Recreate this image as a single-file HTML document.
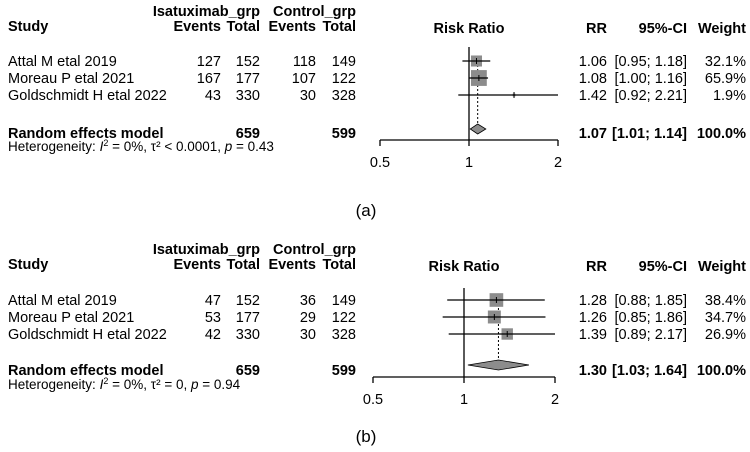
<!DOCTYPE html>
<html><head><meta charset="utf-8">
<style>
html,body{margin:0;padding:0;background:#fff;}
svg{display:block;font-family:"Liberation Sans",Arial,sans-serif;font-size:14.5px;fill:#000;}
.b{font-weight:bold;}
</style></head>
<body>
<svg id="chart" width="750" height="452" viewBox="0 0 750 452"></svg>
<script>
// Panel data
const studies = ["Attal M etal 2019","Moreau P etal 2021","Goldschmidt H etal 2022"];
const aEvT = [127,167,43], aTotT = [152,177,330], aEvC = [118,107,30], aTotC = [149,122,328];
const aRR = [1.06,1.08,1.42], aLo = [0.95,1.00,0.92], aHi = [1.18,1.16,2.21], aW = [32.1,65.9,1.9];
const aPool = [1.07,1.01,1.14], aTot = [659,599];
const aHet = "τ² < 0.0001, ", aP = "0.43";
const bEvT = [47,53,42], bTotT = [152,177,330], bEvC = [36,29,30], bTotC = [149,122,328];
const bRR = [1.28,1.26,1.39], bLo = [0.88,0.85,0.89], bHi = [1.85,1.86,2.17], bW = [38.4,34.7,26.9];
const bPool = [1.30,1.03,1.64], bTot = [659,599];
const bHet = "τ² = 0, ", bP = "0.94";
const ticks = [0.5,1,2];

const NS="http://www.w3.org/2000/svg";
const svg=document.getElementById('chart');
function el(tag,attrs,parent){const e=document.createElementNS(NS,tag);for(const k in attrs)e.setAttribute(k,attrs[k]);(parent||svg).appendChild(e);return e;}
function txt(x,y,s,anchor,cls,name,parent){const t=el('text',{x:x,y:y,'text-anchor':anchor||'start'},parent);if(cls)t.setAttribute('class',cls);t.textContent=s;


return t;}
const f2=v=>v.toFixed(2);

function panel(cfg){
  const g=el('g',{});
  
  
  const sx=v=>cfg.x1+Math.log2(v)*cfg.unit;
  const h1=cfg.top, h2=cfg.top+15;
  txt(8,h2,"Study","start","b","study-header",g);
  txt(260,h1,"Isatuximab_grp","end","b","treatment-group-header",g);
  txt(356,h1,"Control_grp","end","b","control-group-header",g);
  txt(221,h2,"Events","end","b","events-header",g);
  txt(260,h2,"Total","end","b","total-header",g);
  txt(316,h2,"Events","end","b","events-header",g);
  txt(356,h2,"Total","end","b","total-header",g);
  txt(sx(1),h2+2,"Risk Ratio","middle","b","risk-ratio-header",g);
  txt(607,h2+2,"RR","end","b","rr-header",g);
  txt(687,h2+2,"95%-CI","end","b","ci-header",g);
  txt(746,h2+2,"Weight","end","b","weight-header",g);
  const d=cfg.d;
  const ref=el('line',{x1:sx(1),x2:sx(1),y1:cfg.refTop,y2:cfg.axisY,stroke:'#000','stroke-width':1.3},g);
  
  
  const dl=el('line',{x1:sx(d.pool[0]),x2:sx(d.pool[0]),y1:cfg.rows[0],y2:cfg.poolY,stroke:'#000','stroke-dasharray':'2,2','stroke-width':1},g);
  
  
  studies.forEach((s,i)=>{
    const y=cfg.rows[i], by=y+5;
    txt(8,by,s,"start",null,"study-name",g);
    txt(221,by,String(d.evT[i]),"end",null,"treatment-events",g);
    txt(260,by,String(d.totT[i]),"end",null,"treatment-total",g);
    txt(316,by,String(d.evC[i]),"end",null,"control-events",g);
    txt(356,by,String(d.totC[i]),"end",null,"control-total",g);
    const sz=Math.sqrt(d.w[i])*cfg.boxK;
    const bx=el('rect',{x:sx(d.rr[i])-sz/2,y:y-sz/2,width:sz,height:sz,fill:'#8c8c8c'},g);
    
    
    const lo=Math.max(d.lo[i],0.5),hi=Math.min(d.hi[i],2);
    const ci=el('line',{x1:sx(lo),x2:sx(hi),y1:y,y2:y,stroke:'#000','stroke-width':1.3},g);
    
    
    const tk=el('line',{x1:sx(d.rr[i]),x2:sx(d.rr[i]),y1:y-3,y2:y+3,stroke:'#000','stroke-width':1},g);
    
    
    txt(607,by,f2(d.rr[i]),"end",null,"rr-value",g);
    txt(687,by,"["+f2(d.lo[i])+"; "+f2(d.hi[i])+"]","end",null,"ci-value",g);
    txt(746,by,d.w[i].toFixed(1)+"%","end",null,"weight-value",g);
  });
  const py=cfg.poolY, ty=cfg.poolTextY+5;
  txt(8,ty,"Random effects model","start","b","pooled-label",g);
  txt(260,ty,String(d.tot[0]),"end","b","treatment-pooled-total",g);
  txt(356,ty,String(d.tot[1]),"end","b","control-pooled-total",g);
  const dm=el('polygon',{points:`${sx(d.pool[1])},${py} ${sx(d.pool[0])},${py-5} ${sx(d.pool[2])},${py} ${sx(d.pool[0])},${py+5}`,fill:'#8c8c8c',stroke:'#000','stroke-width':0.8},g);
  
  
  txt(607,ty,f2(d.pool[0]),"end","b","pooled-rr",g);
  txt(687,ty,"["+f2(d.pool[1])+"; "+f2(d.pool[2])+"]","end","b","pooled-ci",g);
  txt(746,ty,"100.0%","end","b","pooled-weight",g);
  const het=el('text',{x:8,y:cfg.hetY,'font-size':'13.5'},g);
  
  
  het.innerHTML=`Heterogeneity: <tspan font-style="italic">I</tspan><tspan dy="-5" font-size="9">2</tspan><tspan dy="5"> = 0%, ${d.het}</tspan><tspan font-style="italic">p</tspan> = ${d.p}`;
  const ax=el('line',{x1:sx(0.5),x2:sx(2),y1:cfg.axisY,y2:cfg.axisY,stroke:'#000','stroke-width':1.3},g);
  
  
  ticks.forEach(t=>{
    const tl=el('line',{x1:sx(t),x2:sx(t),y1:cfg.axisY,y2:cfg.axisY+6,stroke:'#000','stroke-width':1.3},g);
    
    
    txt(sx(t),cfg.axisY+27,String(t),"middle",null,"x-tick-label",g);
  });
  const lab=el('text',{x:cfg.labX,y:cfg.labY,'text-anchor':'middle','font-size':'17'},g);
  lab.textContent=cfg.label;
  
  
}

panel({name:'panel-a',label:'(a)',x1:469,unit:89,top:16,refTop:47,axisY:140,rows:[61,78,95],poolY:129,poolTextY:133,hetY:151,boxK:1.95,labX:366,labY:216,
  d:{evT:aEvT,totT:aTotT,evC:aEvC,totC:aTotC,rr:aRR,lo:aLo,hi:aHi,w:aW,pool:aPool,tot:aTot,het:aHet,p:aP}});
panel({name:'panel-b',label:'(b)',x1:464,unit:91,top:254,refTop:288,axisY:377,rows:[300,317,334],poolY:365,poolTextY:370,hetY:389,boxK:2.2,labX:366,labY:442,
  d:{evT:bEvT,totT:bTotT,evC:bEvC,totC:bTotC,rr:bRR,lo:bLo,hi:bHi,w:bW,pool:bPool,tot:bTot,het:bHet,p:bP}});
</script>
</body></html>
